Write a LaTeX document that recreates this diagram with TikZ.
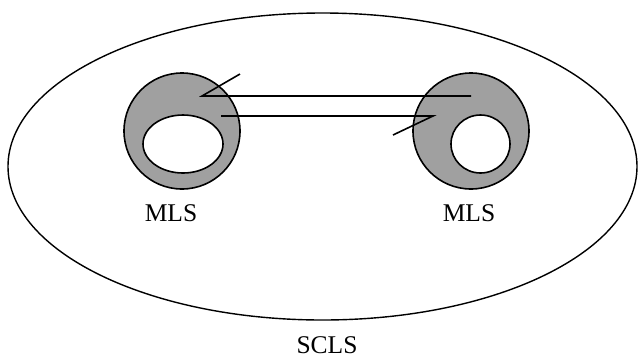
\documentclass[tikz,border=0pt]{standalone}
\usepackage{fontspec}
\setmainfont{Liberation Serif}
\usetikzlibrary{shapes.geometric}
\begin{document}
\begin{tikzpicture}[x=1pt,y=-1pt,
  ring/.style={ellipse,draw,line width=1.6pt,fill={rgb,255:red,160;green,160;blue,160},inner sep=0pt},
  hole/.style={ellipse,draw,line width=1.6pt,fill=white,inner sep=0pt},
  region/.style={ellipse,draw,line width=1.4pt,inner sep=0pt},
  lbl/.style={font=\fontsize{25.5}{29}\selectfont,inner sep=0pt},
  link/.style={line width=1.6pt}]
\useasboundingbox (0,0) rectangle (638,360);
% outer region
\node[region,minimum width=629pt,minimum height=307pt] (scls) at (322.5,166.5) {};
% left MLS
\node[ring,minimum width=116pt,minimum height=116pt] (lring) at (182,131) {};
\node[hole,minimum width=80pt,minimum height=58pt] (lhole) at (183,144) {};
% right MLS
\node[ring,minimum width=116pt,minimum height=116pt] (rring) at (471,131) {};
\node[hole,minimum width=59pt,minimum height=58pt] (rhole) at (480.5,144) {};
% labels
\node[lbl] (lmls) at (171,213) {MLS};
\node[lbl] (rmls) at (469,213) {MLS};
\node[lbl] (sclsl) at (327,345.5) {SCLS};
% connection lines
\coordinate (a1) at (240,74);
\coordinate (a2) at (202,96);
\coordinate (a3) at (471,96);
\coordinate (b1) at (221,116);
\coordinate (b2) at (433,116);
\coordinate (b3) at (393,135);
\draw[link] (a1) -- (a2) -- (a3);
\draw[link] (b1) -- (b2) -- (b3);
\end{tikzpicture}
\end{document}
